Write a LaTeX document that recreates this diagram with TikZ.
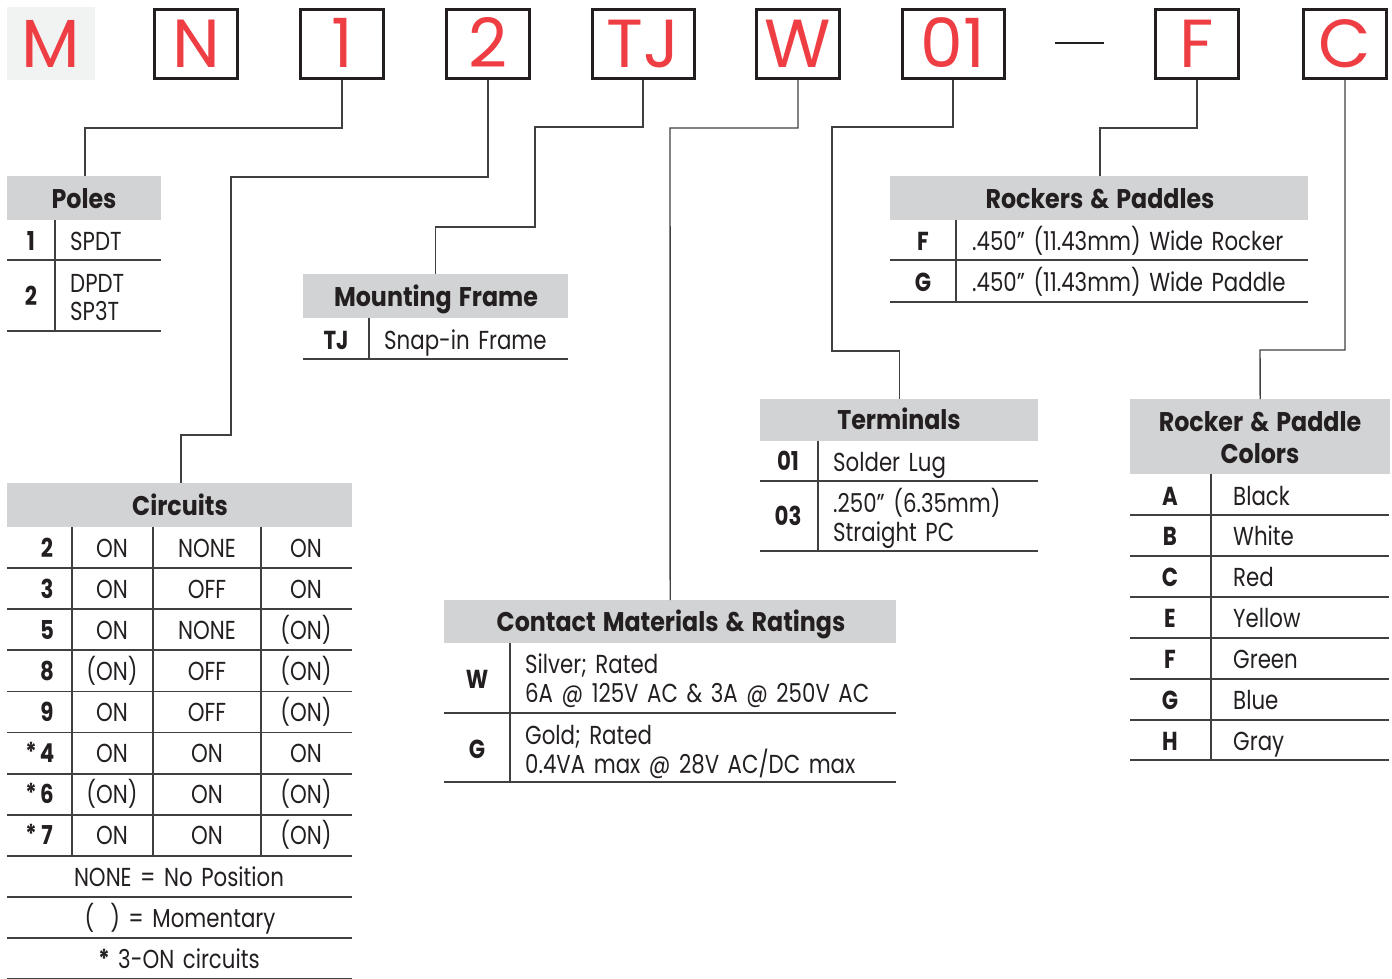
\documentclass[tikz,border=0pt]{standalone}
\usepackage{fontspec}
\setmainfont[FakeStretch=0.82,WordSpace=1.5]{Poppins}
\newfontfamily\bigfont{Poppins}
\newfontfamily\ttlfont[FakeStretch=0.88,WordSpace=1.4]{Poppins}
\definecolor{ink}{HTML}{231F20}
\definecolor{hdrgray}{HTML}{D1D3D4}
\definecolor{mgray}{HTML}{F1F2F2}
\definecolor{redc}{HTML}{EE3E44}
\definecolor{linec}{HTML}{404040}
\tikzset{
  codebox/.style={draw=ink, line width=3pt, minimum width=83pt, minimum height=69pt, inner sep=0pt},
  codelet/.style={inner sep=0pt, anchor=base, text=redc, font=\bigfont\fontsize{68}{72}\selectfont},
  hdr/.style={fill=hdrgray, inner sep=0pt, anchor=north west},
  conn/.style={draw=linec, line width=1.4pt},
  tab/.style={draw=linec, line width=1.8pt},
  txt/.style={inner sep=0pt, text=ink, font=\fontsize{26}{30}\selectfont},
  bld/.style={inner sep=0pt, text=ink, font=\bfseries\fontsize{26}{30}\selectfont},
  ttl/.style={inner sep=0pt, text=ink, anchor=base, font=\ttlfont\bfseries\fontsize{27}{30}\selectfont},
}
\begin{document}
\begin{tikzpicture}[x=1pt,y=-1pt]
\useasboundingbox (0,0) rectangle (1392,979);
% ---- code boxes
\node[fill=mgray, minimum width=88pt, minimum height=73pt, inner sep=0pt] (bM) at (51,43.5) {};
\node[codelet] (lM) at (51,68) {M};
\node[codebox] (bN) at (196,44) {};
\node[codelet] (lN) at (196,68) {N};
\node[codebox] (b1) at (342,44) {};
\node[codelet] (l1) at (342,68) {1};
\node[codebox] (b2) at (488,44) {};
\node[codelet] (l2) at (488,68) {2};
\node[codebox, minimum width=102pt] (bTJ) at (643,44) {};
\node[codelet] (lTJ) at (643,68) {TJ};
\node[codebox] (bW) at (798,44) {};
\node[codelet] (lW) at (798,68) {W};
\node[codebox, minimum width=102pt] (b01) at (953,44) {};
\node[codelet] (l01) at (953,68) {01};
\coordinate (d1) at (1055,43);
\coordinate (d2) at (1104,43);
\draw[draw=ink, line width=2pt] (d1) -- (d2);
\node[codebox] (bF) at (1197,44) {};
\node[codelet] (lF) at (1197,68) {F};
\node[codebox] (bC) at (1345,44) {};
\node[codelet] (lC) at (1345,68) {C};

% ---- headers
\node[hdr, minimum width=154pt, minimum height=44pt] (poles) at (7,176) {};
\node[hdr, minimum width=265pt, minimum height=44pt] (mount) at (303,274) {};
\node[hdr, minimum width=345pt, minimum height=44pt] (circ) at (7,483) {};
\node[hdr, minimum width=452pt, minimum height=43pt] (contact) at (444,600) {};
\node[hdr, minimum width=278pt, minimum height=42pt] (term) at (760,399) {};
\node[hdr, minimum width=418pt, minimum height=44pt] (rock) at (890,176) {};
\node[hdr, minimum width=260pt, minimum height=75pt] (col) at (1130,399) {};

% ---- connectors
\draw[conn] (b1.south) |- (85,128) -- (85,176);
\draw[conn] (b2.south) |- (231,177) -- (231,435) -- (181,435) -- (181,483);
\draw[conn] (bTJ.south) |- (535,127) -- (535,227) -| (mount.north);
\draw[conn] (bW.south) |- (670,128) -- (contact.north);
\draw[conn] (b01.south) |- (832,127) -- (832,351) -| (term.north);
\draw[conn] (bF.south) |- (1100,128) -- (1100,176);
\draw[conn] (bC.south) |- (1260,350) -- (col.north);

% ---- Poles
\node[ttl] (tpoles) at (84,208) {Poles};
\draw[tab] (55,220) -- (55,331);
\draw[tab] (7,260) -- (161,260);
\draw[tab] (7,331) -- (161,331);
\node[bld, anchor=base] (p1) at (31,250) {1};
\node[txt, anchor=base west] (p1t) at (70,250) {SPDT};
\node[bld, anchor=base] (p2) at (31,305) {2};
\node[txt, anchor=base west] (p2a) at (70,292) {DPDT};
\node[txt, anchor=base west] (p2b) at (70,320) {SP3T};

% ---- Mounting Frame
\node[ttl] (tmount) at (436,306) {Mounting Frame};
\draw[tab] (369,318) -- (369,359);
\draw[tab] (303,359) -- (568,359);
\node[bld, anchor=base] (m1) at (336,349) {TJ};
\node[txt, anchor=base west] (m1t) at (384,349) {Snap-in Frame};

% ---- Circuits
\node[ttl] (tcirc) at (180,515) {Circuits};
\draw[tab] (72,527) -- (72,856);
\draw[tab] (153,527) -- (153,856);
\draw[tab] (261,527) -- (261,856);
\foreach \k in {1,...,11} {
  \pgfmathsetmacro\yl{527+\k*41.1}
  \draw[tab] (7,\yl) -- (352,\yl);
}
\foreach \k/\n/\a/\b/\c in {1/2/ON/NONE/ON, 2/3/ON/OFF/ON, 3/5/ON/NONE/{(ON)}, 4/8/{(ON)}/OFF/{(ON)}, 5/9/ON/OFF/{(ON)}, 6/4/ON/ON/ON, 7/6/{(ON)}/ON/{(ON)}, 8/7/ON/ON/{(ON)}} {
  \pgfmathsetmacro\yb{548+(\k-1)*41.1+9}
  \node[bld, anchor=base] (cn\k) at (47,\yb) {\n};
  \node[txt, anchor=base] (ca\k) at (112,\yb) {\a};
  \node[txt, anchor=base] (cb\k) at (207,\yb) {\b};
  \node[txt, anchor=base] (cc\k) at (306,\yb) {\c};
}
\foreach \k in {6,7,8} {
  \pgfmathsetmacro\ys{548+(\k-1)*41.1+8}
  \node[bld, anchor=base] (cs\k) at (31,\ys) {*};
}
\node[txt, anchor=base] (f1) at (179,886) {NONE = No Position};
\node[txt, anchor=base] (f2) at (180,927) {(\hspace{16pt}) = Momentary};
\node[txt, anchor=base] (f3) at (179,968) {\textbf{*} 3-ON circuits};

% ---- Contact Materials
\node[ttl] (tcontact) at (671,631) {Contact Materials \& Ratings};
\draw[tab] (510,643) -- (510,782);
\draw[tab] (444,713) -- (896,713);
\draw[tab] (444,782) -- (896,782);
\node[bld, anchor=base] (kw) at (477,688) {W};
\node[txt, anchor=base west] (kw1) at (525,673) {Silver; Rated};
\node[txt, anchor=base west] (kw2) at (525,702) {6A @ 125V AC \& 3A @ 250V AC};
\node[bld, anchor=base] (kg) at (477,758) {G};
\node[txt, anchor=base west] (kg1) at (525,744) {Gold; Rated};
\node[txt, anchor=base west] (kg2) at (525,773) {0.4VA max @ 28V AC/DC max};

% ---- Terminals
\node[ttl] (tterm) at (899,429) {Terminals};
\draw[tab] (818,441) -- (818,551);
\draw[tab] (760,481) -- (1038,481);
\draw[tab] (760,551) -- (1038,551);
\node[bld, anchor=base] (t1) at (788,470) {01};
\node[txt, anchor=base west] (t1t) at (833,471) {Solder Lug};
\node[bld, anchor=base] (t3) at (788,525) {03};
\node[txt, anchor=base west] (t3a) at (833,512) {.250” (6.35mm)};
\node[txt, anchor=base west] (t3b) at (833,541) {Straight PC};

% ---- Rockers & Paddles
\node[ttl] (trock) at (1100,208) {Rockers \& Paddles};
\draw[tab] (956,220) -- (956,302);
\draw[tab] (890,260) -- (1308,260);
\draw[tab] (890,302) -- (1308,302);
\node[bld, anchor=base] (rf) at (923,250) {F};
\node[txt, anchor=base west] (rft) at (972,250) {.450” (11.43mm) Wide Rocker};
\node[bld, anchor=base] (rg) at (923,291) {G};
\node[txt, anchor=base west] (rgt) at (972,291) {.450” (11.43mm) Wide Paddle};

% ---- Colors
\node[ttl] (tcol1) at (1260,431) {Rocker \& Paddle};
\node[ttl] (tcol2) at (1260,463) {Colors};
\draw[tab] (1211,474) -- (1211,760);
\foreach \yy in {515,556,597,638,679,720,760} {
  \draw[tab] (1130,\yy) -- (1389,\yy);
}
\foreach \k/\l/\c in {0/A/Black, 1/B/White, 2/C/Red, 3/E/Yellow, 4/F/Green, 5/G/Blue, 6/H/Gray} {
  \pgfmathsetmacro\yb{496+\k*40.9+9}
  \node[bld, anchor=base] (kl\k) at (1170,\yb) {\l};
  \node[txt, anchor=base west] (kc\k) at (1233,\yb) {\c};
}
\end{tikzpicture}
\end{document}
